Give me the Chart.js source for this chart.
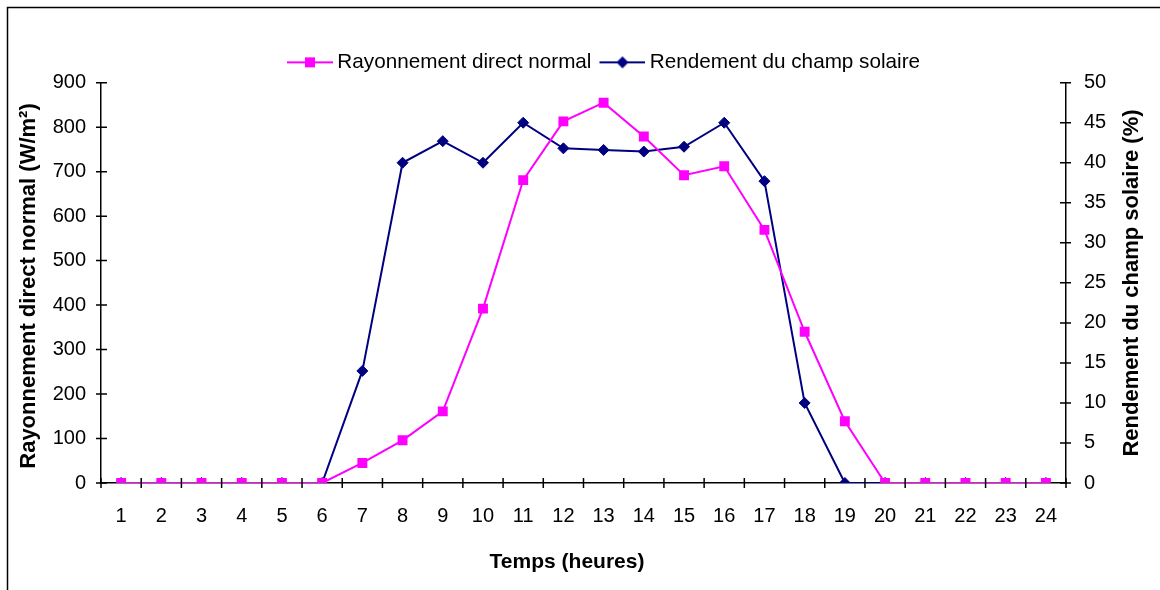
<!DOCTYPE html>
<html><head><meta charset="utf-8">
<script src="https://cdn.jsdelivr.net/npm/chart.js@4"></script>
<style>html,body{margin:0;padding:0;background:#fff}#wrap{width:1160px;height:590px;position:relative}</style>
</head><body><div id="wrap"><canvas id="c" width="1160" height="590"></canvas></div>
<script>
const hours = ['1','2','3','4','5','6','7','8','9','10','11','12','13','14','15','16','17','18','19','20','21','22','23','24'];
const rayonnement = [0,0,0,0,0,0,45,96,161,392,681,813,855,779,692,712,569,340,139,0,0,0,0,0];
const rendement = [0,0,0,0,0,0,14,40,42.7,40,45,41.8,41.6,41.4,42,45,37.7,10,0,0,0,0,0,0];
const seriesNames = ['Rayonnement direct normal','Rendement du champ solaire'];
const xTitle = 'Temps (heures)';
const leftTitle = 'Rayonnement direct normal (W/m²)';
const rightTitle = 'Rendement du champ solaire (%)';

const MAG = '#FF00FF', NAVY = '#000080';
const FONT = '"Liberation Sans", Arial, sans-serif';

function legendImg(color, style){
  const c = document.createElement('canvas'); c.width = 52; c.height = 14;
  const g = c.getContext('2d');
  g.strokeStyle = color; g.lineWidth = 2; g.beginPath(); g.moveTo(6,7); g.lineTo(52,7); g.stroke();
  g.fillStyle = color; g.beginPath();
  if (style === 'rect') { g.rect(24,2,10,10); }
  else { g.moveTo(29,1); g.lineTo(35,7); g.lineTo(29,13); g.lineTo(23,7); g.closePath(); }
  g.fill();
  return c;
}
const imgs = [legendImg(MAG,'rect'), legendImg(NAVY,'diamond')];

const deco = {
  id: 'deco',
  beforeDraw(chart){
    const ctx = chart.ctx; ctx.save();
    ctx.strokeStyle = '#000'; ctx.lineWidth = 1.5;
    ctx.strokeRect(7.5, 7.5, 1200, 700);
    ctx.restore();
  },
  afterLayout(chart){
    const lg = chart.legend;
    const total = lg.lineWidths ? lg.lineWidths[0] : 0;
    const curStart = (lg.left + 8 + lg.right - total) / 2;
    const shift = 287 - curStart;
    lg.left += shift; lg.right += shift;
  },
  afterDraw(chart){
    const ctx = chart.ctx; ctx.save();
    ctx.strokeStyle = '#000'; ctx.lineWidth = 1.5;
    const x = chart.scales.x, yl = chart.scales.y, yr = chart.scales.y1;
    ctx.beginPath();
    yl.ticks.forEach(t => { const p = yl.getPixelForValue(t.value); ctx.moveTo(yl.right-5,p); ctx.lineTo(yl.right+6,p); });
    yr.ticks.forEach(t => { const p = yr.getPixelForValue(t.value); ctx.moveTo(yr.left-6,p); ctx.lineTo(yr.left+5,p); });
    const n = x.ticks.length;
    for (let i=0;i<=n;i++){ const p = x.left + i*(x.width/n); ctx.moveTo(p, x.top-5); ctx.lineTo(p, x.top+5); }
    ctx.stroke();
    ctx.fillStyle = '#000'; ctx.textAlign = 'center'; ctx.textBaseline = 'middle';
    ctx.font = 'bold 21px ' + FONT;
    ctx.fillText(xTitle, 567, 562);
    ctx.font = 'bold 22px ' + FONT;
    ctx.save();
    ctx.translate(29, 286); ctx.rotate(-Math.PI/2);
    ctx.fillText(leftTitle, 0, 0);
    ctx.restore();
    ctx.translate(1132, 283); ctx.rotate(-Math.PI/2);
    ctx.fillText(rightTitle, 0, 0);
    ctx.restore();
  }
};

new Chart(document.getElementById('c'), {
  type: 'line',
  data: {
    labels: hours,
    datasets: [
      { label: seriesNames[0], data: rayonnement, yAxisID: 'y', borderColor: MAG, backgroundColor: MAG,
        borderWidth: 2, pointStyle: 'rect', pointRadius: 7, pointBorderWidth: 0, tension: 0 },
      { label: seriesNames[1], data: rendement, yAxisID: 'y1', borderColor: NAVY, backgroundColor: NAVY,
        borderWidth: 2, pointStyle: 'rectRot', pointRadius: 5.5, pointBorderWidth: 1, tension: 0 }
    ]
  },
  options: {
    responsive: false, animation: false,
    layout: { padding: { top: 44, left: 0, right: 0, bottom: 0 } },
    plugins: {
      tooltip: { enabled: false },
      legend: {
        position: 'top',
        labels: {
          usePointStyle: true, pointStyleWidth: 40, padding: 8, color: '#000',
          font: { family: FONT, size: 20.7 },
          generateLabels(chart){
            return chart.data.datasets.map((d,i) => ({ text: d.label, pointStyle: imgs[i], fillStyle: d.borderColor,
              strokeStyle: d.borderColor, lineWidth: 0, hidden: false, datasetIndex: i, fontColor: '#000' }));
          }
        }
      }
    },
    scales: {
      x: {
        offset: true,
        grid: { display: false, drawTicks: false },
        border: { display: true, color: '#000', width: 1.5 },
        ticks: { color: '#000', font: { family: FONT, size: 20 }, padding: 21, maxRotation: 0, autoSkip: false },
        title: { display: false, text: xTitle },
        afterFit(s){ s.height = 107; }
      },
      y: {
        position: 'left', min: 0, max: 900,
        grid: { display: false, drawTicks: false },
        border: { display: true, color: '#000', width: 1.5 },
        ticks: { stepSize: 100, color: '#000', font: { family: FONT, size: 20 }, padding: 15 },
        title: { display: false, text: leftTitle },
        afterFit(s){ s.width = 101; }
      },
      y1: {
        position: 'right', min: 0, max: 50,
        grid: { display: false, drawTicks: false },
        border: { display: true, color: '#000', width: 1.5 },
        ticks: { stepSize: 5, color: '#000', font: { family: FONT, size: 20 }, padding: 18 },
        title: { display: false, text: rightTitle },
        afterFit(s){ s.width = 94; }
      }
    }
  },
  plugins: [deco]
});
</script>
</body></html>
